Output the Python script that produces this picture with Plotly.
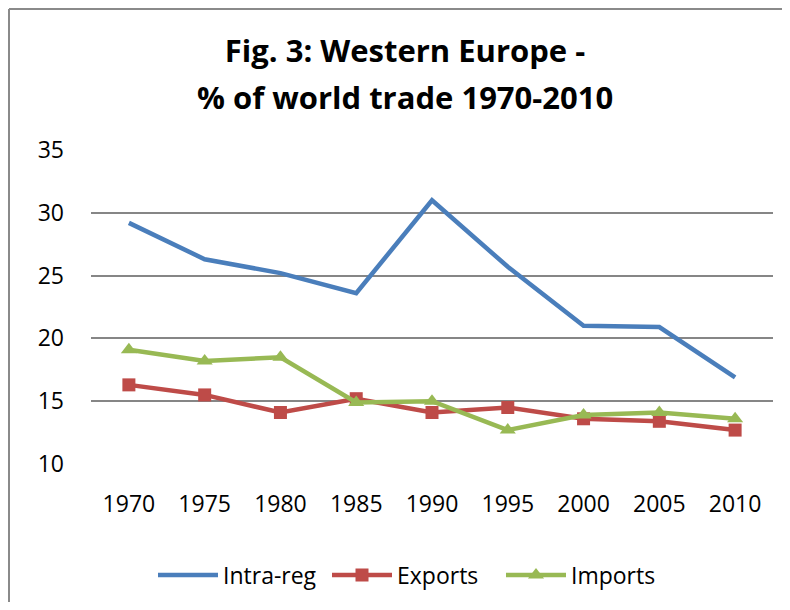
import plotly.graph_objects as go

years = ["1970", "1975", "1980", "1985", "1990", "1995", "2000", "2005", "2010"]
intra_reg = [29.2, 26.3, 25.2, 23.6, 31.0, 25.7, 21.0, 20.9, 16.9]
exports = [16.3, 15.5, 14.1, 15.2, 14.1, 14.5, 13.6, 13.4, 12.7]
imports = [19.1, 18.2, 18.5, 14.9, 15.0, 12.7, 13.9, 14.1, 13.6]
y_ticks = [10, 15, 20, 25, 30, 35]

FONT = "Open Sans, Noto Sans, Liberation Sans, sans-serif"

fig = go.Figure()
fig.add_trace(go.Scatter(x=years, y=intra_reg, name="Intra-reg", mode="lines",
                         line=dict(color="#4A7EBB", width=4.5)))
fig.add_trace(go.Scatter(x=years, y=exports, name="Exports", mode="lines+markers",
                         line=dict(color="#BE4B48", width=4.5),
                         marker=dict(symbol="square", size=13, color="#BE4B48")))
fig.add_trace(go.Scatter(x=years, y=imports, name="Imports", mode="lines+markers",
                         line=dict(color="#98B954", width=4.5),
                         marker=dict(symbol="triangle-up", size=14, color="#98B954")))

# page body has an 8px margin: screen coordinate = figure coordinate + 8
OFF = 8
W, H = 790 - 2 * OFF, 610 - 2 * OFF
L = 91 - OFF
T = 150 - OFF
R = W - (773 - OFF)
B = H - (464 - OFF)
pw, ph = W - L - R, H - T - B

def px(xs):
    return (xs - OFF - L) / pw

def py(ys):
    return (H - B - (ys - OFF)) / ph

border = dict(color="#8A8A8A", width=2)

fig.update_layout(
    width=W, height=H,
    margin=dict(l=L, r=R, t=T, b=B, pad=0, autoexpand=False),
    paper_bgcolor="white", plot_bgcolor="white",
    font=dict(family=FONT, size=23, color="black"),
    title=dict(text="<b>Fig. 3: Western Europe -</b>", x=(405 - OFF) / W, xref="container",
               xanchor="center", y=1 - (51 - OFF) / H, yref="container", yanchor="middle",
               automargin=False,
               font=dict(family=FONT, size=31, color="black")),
    showlegend=True,
    legend=dict(orientation="h", xref="container", x=(414 - OFF) / W, xanchor="center",
                yref="container", y=1 - (575 - OFF) / H, yanchor="middle",
                font=dict(family=FONT, size=23), itemwidth=60,
                entrywidth=99, entrywidthmode="pixels",
                bgcolor="rgba(0,0,0,0)"),
    xaxis=dict(type="category", range=[-0.5, 8.5], showgrid=False, zeroline=False,
               showline=False, ticks="", ticklabelstandoff=24, automargin=False,
               tickfont=dict(family=FONT, size=23)),
    yaxis=dict(range=[10, 35], tickvals=y_ticks, showgrid=True, gridcolor="#868686",
               gridwidth=1.5, zeroline=False, showline=False, ticks="",
               ticklabelstandoff=26, automargin=False,
               tickfont=dict(family=FONT, size=23)),
    annotations=[dict(text="<b>% of world trade 1970-2010</b>", xref="paper", yref="paper",
                      x=px(405), y=py(97), xanchor="center", yanchor="middle",
                      showarrow=False, font=dict(family=FONT, size=31, color="black"))],
    shapes=[
        dict(type="line", xref="paper", yref="paper",
             x0=px(OFF + 1), x1=px(OFF + W), y0=py(OFF + 1), y1=py(OFF + 1),
             line=border, layer="below"),
        dict(type="line", xref="paper", yref="paper",
             x0=px(OFF + 1), x1=px(OFF + 1), y0=py(OFF + 1), y1=py(OFF + H),
             line=border, layer="below"),
    ],
)

fig.write_html("out.html")
